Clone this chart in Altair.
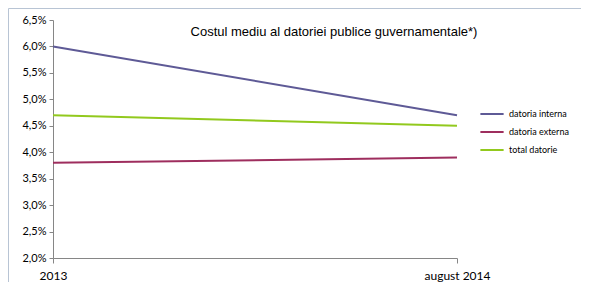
import altair as alt
import pandas as pd

periods = ["2013", "august 2014"]
series_names = ["datoria interna", "datoria externa", "total datorie"]
interna = [6.0, 4.7]
externa = [3.8, 3.9]
total = [4.7, 4.5]
colors = ["#5E5A96", "#9E2E5E", "#92C91E"]
y_ticks = [2.0, 2.5, 3.0, 3.5, 4.0, 4.5, 5.0, 5.5, 6.0, 6.5]
title_text = "Costul mediu al datoriei publice guvernamentale*)"

rows = []
for name, vals in zip(series_names, [interna, externa, total]):
    for p, v in zip(periods, vals):
        rows.append({"period": p, "serie": name, "value": v})
df = pd.DataFrame(rows)

W, H = 404, 238
PL, PT = 45, 12

lines = alt.Chart(df).mark_line(strokeWidth=2).encode(
    x=alt.X("period:N", sort=periods,
            scale=alt.Scale(type="point", padding=0),
            axis=alt.Axis(title=None, labelAngle=0, labelFont="Lato", labelFontSize=12,
                          labelColor="#000000", domainColor="#868686", tickColor="#868686",
                          tickSize=5, labelPadding=7, grid=False)),
    y=alt.Y("value:Q", scale=alt.Scale(domain=[2.0, 6.5], nice=False, zero=False),
            axis=alt.Axis(title=None, values=y_ticks, grid=False,
                          labelExpr="replace(format(datum.value, '.1f'), '.', ',') + '%'",
                          labelFont="Lato", labelFontSize=11, labelColor="#000000",
                          domainColor="#868686", tickColor="#868686", tickSize=4,
                          labelPadding=3)),
    color=alt.Color("serie:N", sort=series_names,
                    scale=alt.Scale(domain=series_names, range=colors),
                    legend=alt.Legend(title=None, orient="none", legendX=426, legendY=81,
                                      symbolType="stroke", symbolStrokeWidth=2,
                                      symbolSize=540, labelFont="Lato", labelFontSize=9,
                                      labelColor="#000000", rowPadding=-2, labelOffset=4)),
)

title_df = pd.DataFrame({"t": [title_text]})
title = alt.Chart(title_df).mark_text(font="Liberation Sans", fontSize=13, color="#000000",
                                      align="center", baseline="middle").encode(
    text="t:N", x=alt.value(281), y=alt.value(12))

frame_df = pd.DataFrame({"a": [0]})
top_line = alt.Chart(frame_df).mark_rule(color="#B8C4D4", strokeWidth=1).encode(
    x=alt.value(-PL + 0.5), x2=alt.value(W + 200), y=alt.value(-PT + 0.5))
left_line = alt.Chart(frame_df).mark_rule(color="#B8C4D4", strokeWidth=1).encode(
    x=alt.value(-PL + 0.5), y=alt.value(-PT + 0.5), y2=alt.value(H + 100))

chart = alt.layer(lines, title, top_line, left_line).properties(
    width=W, height=H,
    background="#ffffff",
    autosize=alt.AutoSizeParams(type="none"),
    padding={"left": PL, "top": PT, "right": 589 - 16 - PL - W, "bottom": 34},
).configure_view(stroke=None)

chart.save("out.html", embed_options={"renderer": "svg", "actions": False})
